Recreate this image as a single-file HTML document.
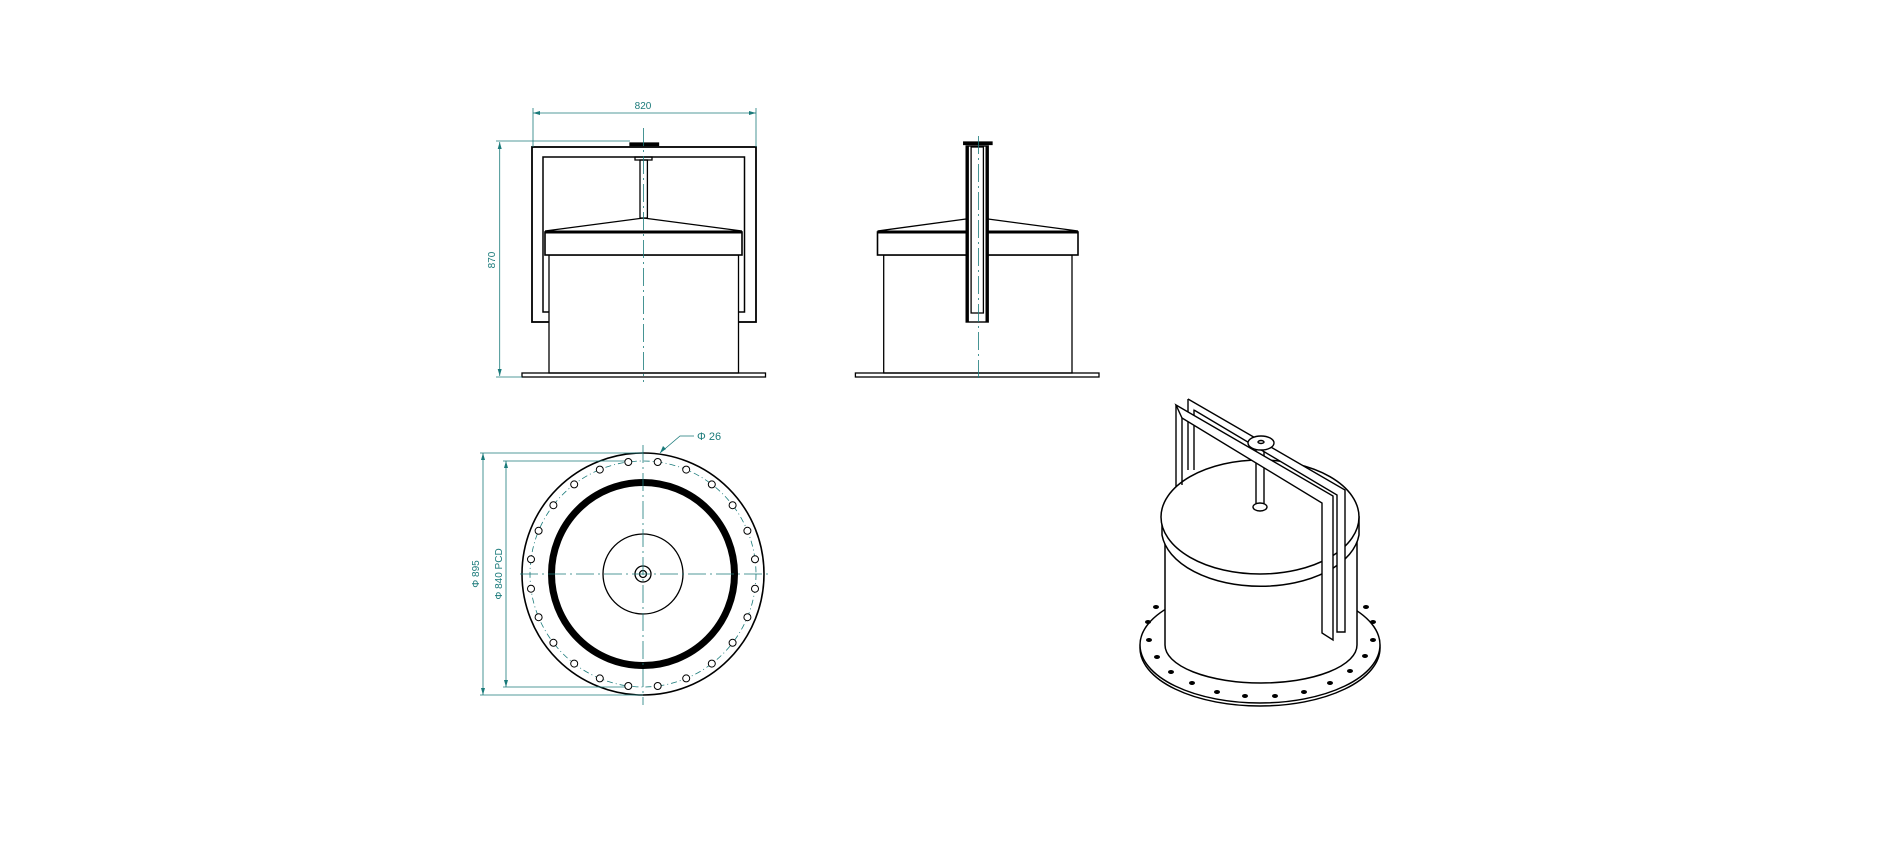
<!DOCTYPE html>
<html><head><meta charset="utf-8"><style>
html,body{margin:0;padding:0;background:#fff;width:1891px;height:844px;overflow:hidden}
svg{display:block}
text{font-family:"Liberation Sans",sans-serif;fill:#1a7a7a}
</style></head><body>
<svg width="1891" height="844" viewBox="0 0 1891 844" xmlns="http://www.w3.org/2000/svg">
<g fill="none" stroke="#000" stroke-width="1.3">
<!-- FRONT VIEW -->
<rect x="532" y="147" width="224" height="175" stroke-width="1.8"/>
<rect x="543" y="157" width="201.5" height="155" stroke-width="1.5"/>
<rect x="549" y="255" width="189.5" height="118" fill="#fff"/>
<rect x="545" y="232" width="197" height="23" fill="#fff" stroke-width="1.6"/>
<line x1="545" y1="232" x2="742" y2="232" stroke-width="3"/>
<path d="M545,231 L643.5,218 L742,231"/>
<rect x="640" y="160" width="7.4" height="58" fill="#fff"/>
<rect x="635" y="157" width="17" height="3"/>
<path d="M630,143 H658.5 V145.5 H630 Z" fill="#000"/>
<rect x="522" y="373" width="243.5" height="4"/>
<!-- SIDE VIEW -->
<rect x="883.7" y="255" width="188.3" height="118"/>
<rect x="877.5" y="232" width="200.5" height="23" fill="#fff" stroke-width="1.6"/>
<line x1="877.5" y1="232" x2="1078" y2="232" stroke-width="3"/>
<path d="M877.5,231 L966,219 M988,219 L1078,231"/>
<rect x="966.2" y="146" width="22" height="176" fill="#fff" stroke-width="1.4"/>
<line x1="967.4" y1="146" x2="967.4" y2="322" stroke-width="3"/>
<line x1="987" y1="146" x2="987" y2="322" stroke-width="3"/>
<rect x="971.1" y="147" width="12.3" height="166"/>
<path d="M963.7,142 H992 V144.5 H963.7 Z" fill="#000"/>
<rect x="855.4" y="373" width="243.6" height="4"/>
<!-- PLAN VIEW -->
<circle cx="643" cy="574" r="121" stroke-width="1.6"/>
<circle cx="643" cy="574" r="91.5" stroke-width="7"/>
<circle cx="643" cy="574" r="40"/>
<circle cx="643" cy="574" r="8"/>
<circle cx="643" cy="574" r="3.5"/>
</g>
<g fill="none" stroke="#1a7a7a" stroke-width="0.8">
<circle cx="643" cy="574" r="113" stroke-dasharray="6 3 1 3"/>
<line x1="643.5" y1="128" x2="643.5" y2="382" stroke-dasharray="18 4 2 4"/>
<line x1="978.5" y1="136" x2="978.5" y2="382" stroke-dasharray="18 4 2 4"/>
<line x1="643" y1="445" x2="643" y2="705" stroke-dasharray="18 4 2 4"/>
<line x1="520" y1="574" x2="772" y2="574" stroke-dasharray="18 4 2 4"/>
<!-- dims -->
<line x1="533" y1="113" x2="756" y2="113"/>
<line x1="533" y1="108" x2="533" y2="147"/>
<line x1="756" y1="108" x2="756" y2="147"/>
<line x1="499.7" y1="142" x2="499.7" y2="376"/>
<line x1="496" y1="141" x2="630" y2="141"/>
<line x1="496" y1="377" x2="522" y2="377"/>
<line x1="483" y1="453" x2="483" y2="695"/>
<line x1="480" y1="453" x2="643" y2="453"/>
<line x1="480" y1="695" x2="643" y2="695"/>
<line x1="506" y1="461" x2="506" y2="687"/>
<line x1="503" y1="461" x2="630" y2="461"/>
<line x1="503" y1="687" x2="630" y2="687"/>
<polyline points="660,453 680,436 694,436"/>
</g>
<g fill="#1a7a7a">
<path d="M533,113 l7,-2 v4z M756,113 l-7,-2 v4z M499.7,142 l-2,7 h4z M499.7,376 l-2,-7 h4z M483,453 l-2,7 h4z M483,695 l-2,-7 h4z M506,461 l-2,7 h4z M506,687 l-2,-7 h4z M660,453 l3,-7 l3,3z"/>
</g>
<g id="bolts" fill="#fff" stroke="#000" stroke-width="1">
</g>
<text x="643" y="109" font-size="10" text-anchor="middle">820</text>
<text x="0" y="0" font-size="10" text-anchor="middle" transform="translate(495,260) rotate(-90)">870</text>
<text x="0" y="0" font-size="10" text-anchor="middle" transform="translate(479,574) rotate(-90)">Φ 895</text>
<text x="0" y="0" font-size="10" text-anchor="middle" transform="translate(502,574) rotate(-90)">Φ 840 PCD</text>
<text x="697" y="440" font-size="11">Φ 26</text>
<!-- ISO VIEW -->
<g fill="#fff" stroke="#000" stroke-width="1.5">
<ellipse cx="1260" cy="648" rx="120" ry="58"/>
<ellipse cx="1260" cy="645" rx="120" ry="58"/>
<path d="M1165,517 V645 A96,38 0 0 0 1357,645 V517 Z"/>
<path d="M1162,517 V535 A99,57 0 0 0 1359,535 V517 Z"/>
<ellipse cx="1260" cy="517" rx="99" ry="57"/>
</g>
<g fill="#000">
<ellipse cx="1156" cy="607" rx="3" ry="2"/><ellipse cx="1148" cy="622" rx="3" ry="2"/><ellipse cx="1149" cy="640" rx="3" ry="2"/><ellipse cx="1157" cy="657" rx="3" ry="2"/><ellipse cx="1171" cy="672" rx="3" ry="2"/><ellipse cx="1192" cy="683" rx="3" ry="2"/><ellipse cx="1217" cy="692" rx="3" ry="2"/><ellipse cx="1245" cy="696" rx="3" ry="2"/><ellipse cx="1275" cy="696" rx="3" ry="2"/><ellipse cx="1304" cy="692" rx="3" ry="2"/><ellipse cx="1330" cy="683" rx="3" ry="2"/><ellipse cx="1350" cy="671" rx="3" ry="2"/><ellipse cx="1365" cy="656" rx="3" ry="2"/><ellipse cx="1373" cy="640" rx="3" ry="2"/><ellipse cx="1373" cy="622" rx="3" ry="2"/><ellipse cx="1366" cy="607" rx="3" ry="2"/>
</g>
<g fill="#fff" stroke="#000" stroke-width="1.4">
<rect x="1256" y="448" width="8" height="59"/>
<ellipse cx="1260" cy="507" rx="7" ry="4"/>
<polyline points="1188,399 1188,470" fill="none"/>
<polyline points="1194,402 1194,470" fill="none"/>
<path d="M1188,399 L1345,490 V632 H1337 V495 L1194,410"/>
<polyline points="1176,405 1176,487" fill="none"/>
<polyline points="1182,410 1182,485" fill="none"/>
<path d="M1176,405 L1333,496 V640 L1322,633 V503 L1182,418 Z"/>
<ellipse cx="1261" cy="443" rx="13" ry="7"/>
<ellipse cx="1261" cy="442" rx="3" ry="1.5"/>
</g>
</svg>
<script>
var g=document.getElementById('bolts');var s='';
for(var i=0;i<24;i++){var a=(i+0.5)*Math.PI*2/24;var x=643+113*Math.cos(a),y=574+113*Math.sin(a);
s+='<circle cx="'+x.toFixed(1)+'" cy="'+y.toFixed(1)+'" r="3.5"/>';}
g.innerHTML=s;
</script>
</body></html>
